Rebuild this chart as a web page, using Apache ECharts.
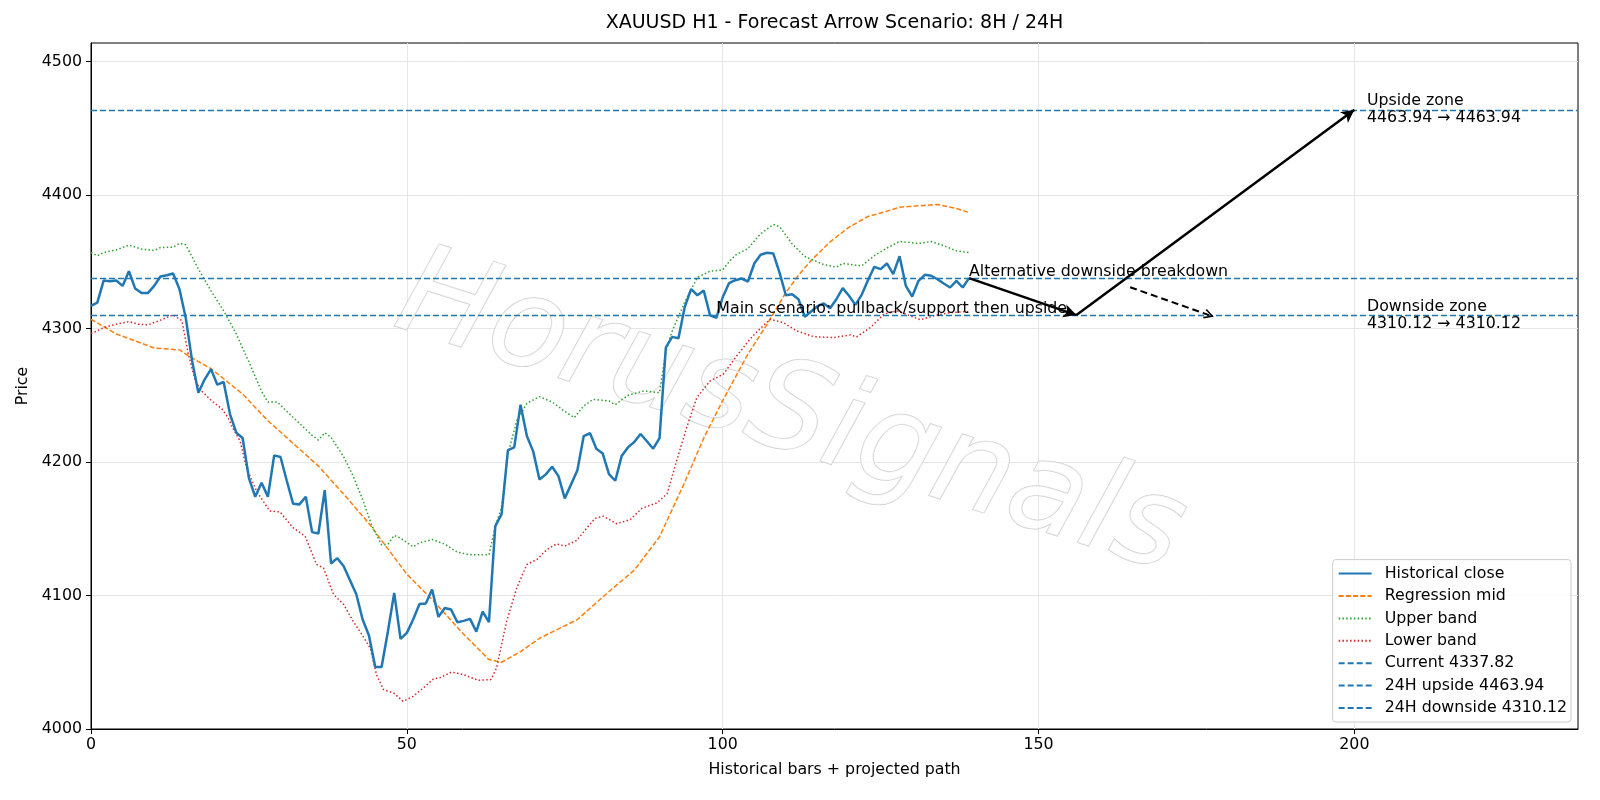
<!DOCTYPE html>
<html>
<head>
    <meta charset="utf-8">
    <script src="https://cdn.jsdelivr.net/npm/echarts@6/dist/echarts.min.js"></script>
</head>
<body style="margin:0">
    <div id="main" style="width: 1600px;height:800px;"></div>
    <script type="text/javascript">

    // historical closes, one per bar (x = 0..139)
    var closeValues = [
        4317, 4319.5, 4336, 4335.5, 4336, 4332, 4343, 4330, 4326.6, 4326.6,
        4332, 4339, 4340, 4341.3, 4329.6, 4308, 4276, 4252, 4262, 4269.6,
        4258, 4260, 4236, 4222, 4218, 4188, 4174, 4184.5, 4174, 4205,
        4203.8, 4185.8, 4168.7, 4168.3, 4174, 4147.5, 4146.5, 4179, 4124, 4128,
        4122, 4111.5, 4101, 4082, 4070, 4046.5, 4046.5, 4073, 4102, 4067.5,
        4072, 4082, 4093.7, 4094, 4104.5, 4084, 4090.7, 4089.5, 4080, 4081,
        4082.5, 4073, 4088, 4080, 4152, 4161, 4209, 4211, 4243, 4219.5,
        4208, 4187, 4190.8, 4196.5, 4189.5, 4172.8, 4183.3, 4193.8, 4219.5, 4221.6,
        4210, 4206.5, 4191, 4186, 4204.5, 4211, 4215, 4221, 4215.6, 4210,
        4218, 4285.8, 4293.8, 4292.8, 4316.3, 4329.6, 4325, 4328.5, 4310, 4308,
        4323.5, 4334, 4336.3, 4337.5, 4335.3, 4348.8, 4355.3, 4356.8, 4356.3, 4342,
        4325, 4325.8, 4322, 4308.8, 4312.8, 4316.8, 4318.8, 4315.3, 4322, 4330.3,
        4324.6, 4317.8, 4325.3, 4336.3, 4346.3, 4344.6, 4348.8, 4340.8, 4354.3, 4332,
        4324, 4335.8, 4340.3, 4339.6, 4337, 4333.8, 4330.8, 4335.8, 4330.8, 4337.82
    ];

    // regression mid line, read at these bars
    var midX = [0, 4, 10, 14, 16, 19, 24, 28, 32, 36, 40, 44, 47, 50, 54, 59, 63, 65, 68, 71,
        77, 82, 86, 90, 94, 97, 100, 104, 107, 110, 112, 114, 117, 120, 123, 126, 128, 131, 134, 137, 139];
    var midY = [4307, 4296, 4285.5, 4284, 4278, 4270, 4251, 4231, 4214, 4197, 4176, 4154, 4135, 4116, 4097, 4071, 4052, 4050, 4058, 4068,
        4082, 4103, 4119, 4144, 4185, 4218, 4246, 4281, 4303, 4327, 4340, 4351, 4365, 4376, 4384, 4388, 4391, 4392, 4393, 4390, 4387];

    // [bar, price]
    var upperBand = [[0,4357],[1,4354.6],[2,4357],[4,4359],[6,4362.6],[8,4359.6],[10,4358.5],[11,4360.8],[13,4361],[14,4363.8],
        [15,4362.8],[17,4344.6],[19,4328.3],[21,4313.3],[23,4296],[25,4275],[27,4253],[28,4245],[29.5,4245],[31,4238],
        [33,4229],[35,4220],[36,4216.5],[37,4222],[38,4218.5],[40,4204],[41.5,4189.5],[43,4172],[44.5,4152],[46,4138],
        [47,4138.3],[48,4145],[49,4143],[51,4136.5],[52,4139.5],[54,4142],[56,4138.5],[58,4132.5],[60,4130.5],[63,4130.5],
        [64,4152],[65,4166],[66,4206],[67.4,4231],[69,4244],[71,4249],[73,4245],[75,4238],[76.5,4233.3],[78,4242],
        [79.5,4247],[82,4245.8],[83,4243],[85,4250],[87.5,4253.3],[90,4252],[91,4283],[92,4298],[94,4320],[96,4338.5],
        [98,4343],[100,4344],[101,4350],[102,4355],[104,4360],[106,4371],[108,4378],[109,4376.4],[111,4363.5],[113,4354],
        [116,4348],[118,4346],[119,4348.8],[122,4347],[124,4354.6],[126,4360.4],[128,4365.3],[131,4363.8],[133,4365.3],[135,4362],
        [137,4358.3],[139,4357]];

    var lowerBand = [[0,4296.3],[1,4298.3],[2,4300.8],[4,4303.3],[6,4305.3],[7.5,4303.3],[9,4302.8],[10.7,4305.8],[13,4310.3],[14.4,4305.8],
        [15.4,4281],[16.5,4261],[17.5,4253.3],[19.2,4245.5],[20.7,4240],[21.7,4233.3],[22.5,4225],[23.6,4215.8],[24.6,4196],[26.2,4178.3],
        [28.3,4163.3],[29.9,4162.7],[32,4150.7],[33.9,4144.5],[35.7,4123.3],[36.8,4120.7],[38.4,4100.8],[40,4093.3],[41.5,4080.7],[42.9,4070.7],
        [44.2,4060.7],[45.2,4040.7],[46.3,4029.5],[47.9,4027],[49.4,4020.7],[51,4024.5],[52.6,4030.7],[54.2,4037.5],[55.2,4038.3],[57.1,4042.7],
        [59,4040.7],[61.3,4036.5],[63.3,4037],[64.2,4045.7],[65.8,4080.7],[67.4,4105.7],[69,4123.3],[70.6,4127],[72.2,4134.5],[73.7,4138.7],
        [75,4137],[76.9,4141.3],[78.5,4150.7],[79.8,4157.8],[81.1,4159.5],[83.2,4153.8],[85.4,4157],[87.2,4165.3],[89.6,4169.5],[91.2,4176.2],
        [92.7,4200.8],[94.3,4225.8],[95.9,4248.3],[98,4260.8],[100.1,4265.8],[102.2,4279.5],[104.3,4292],[105.5,4298],[107.5,4307],[109.6,4304.5],
        [111.7,4298.3],[114.4,4294],[117.5,4293.3],[120.2,4295.3],[121.2,4293.8],[123.4,4300.8],[125.5,4310.8],[127.6,4313.3],[129.7,4309.6],[131.3,4306.6],
        [133.4,4309.6],[136,4312],[139,4312.8]];

    var currentPrice = 4337.82;
    var upside24 = 4463.94;
    var downside24 = 4310.12;

    // scenario path (bars)
    var lastBar = 139, pullbackBar = 156, upsideBar = 200, altBar = 177;
    var altArrowStart = [164.5, 4331];
    var mainTextAt = [99, downside24];
    var zoneTextBar = 202;

    var xTicks = [0, 50, 100, 150, 200];
    var yTicks = [4000, 4100, 4200, 4300, 4400, 4500];

    var font = 'DejaVu Sans';
    var fs = 15.8;
    var hColor = '#1f77b4';

    var myChart = echarts.init(document.getElementById('main'));

    function hline(name, value) {
        return {
            name: name,
            type: 'line',
            data: [],
            symbol: 'none',
            color: hColor,
            lineStyle: {color: hColor, width: 1.4, type: [6, 3]},
            markLine: {
                silent: true,
                animation: false,
                symbol: 'none',
                label: {show: false},
                lineStyle: {color: hColor, width: 1.4, type: [6, 3]},
                data: [{yAxis: value}]
            }
        };
    }

    var chevron = 'path://M5,0 L10,9 L8.6,9.8 L5,2.8 L1.4,9.8 L0,9 Z';

    myChart.setOption({
        animation: false,
        textStyle: {fontFamily: font},
        title: {
            text: 'XAUUSD H1 - Forecast Arrow Scenario: 8H / 24H',
            left: 834.5,
            top: 14,
            padding: 0,
            textAlign: 'center',
            textStyle: {fontSize: 19, fontWeight: 'normal', color: '#000', fontFamily: font}
        },
        grid: {
            left: 91, right: 22, top: 43, bottom: 71,
            show: true, borderColor: '#000', borderWidth: 1, backgroundColor: 'transparent'
        },
        legend: {
            orient: 'vertical',
            right: 29,
            bottom: 78,
            itemWidth: 33,
            itemHeight: 16,
            itemGap: 6.4,
            padding: [6, 4, 6, 5],
            backgroundColor: 'rgba(255,255,255,0.8)',
            borderColor: '#cccccc',
            borderWidth: 1,
            borderRadius: 3,
            itemStyle: {opacity: 0},
            textStyle: {fontSize: fs, color: '#000', fontFamily: font, padding: [0, 0, 0, 8]},
            data: ['Historical close', 'Regression mid', 'Upper band', 'Lower band',
                'Current ' + currentPrice, '24H upside ' + upside24, '24H downside ' + downside24]
        },
        xAxis: {
            type: 'value',
            min: 0,
            max: 235.4,
            interval: 50,
            name: 'Historical bars + projected path',
            nameLocation: 'middle',
            nameGap: 33,
            nameTextStyle: {fontSize: fs, color: '#000', fontFamily: font},
            axisLine: {show: true, onZero: false, lineStyle: {color: '#000', width: 1}},
            axisTick: {show: true, length: 5, lineStyle: {color: '#000'}, customValues: xTicks},
            axisLabel: {fontSize: fs, color: '#000', margin: 8, customValues: xTicks},
            splitLine: {show: true, lineStyle: {color: '#e6e6e6', width: 1}}
        },
        yAxis: {
            type: 'value',
            min: 4000,
            max: 4514,
            interval: 100,
            name: 'Price',
            nameLocation: 'middle',
            nameGap: 57,
            nameRotate: 90,
            nameTextStyle: {fontSize: fs, color: '#000', fontFamily: font},
            axisLine: {show: true, onZero: false, lineStyle: {color: '#000', width: 1}},
            axisTick: {show: true, length: 5, lineStyle: {color: '#000'}, customValues: yTicks},
            axisLabel: {
                fontSize: fs, color: '#000', margin: 9, customValues: yTicks,
                formatter: function (v) { return String(v); }
            },
            splitLine: {show: true, lineStyle: {color: '#e6e6e6', width: 1}}
        },
        graphic: [{
            type: 'text',
            x: 790,
            y: 417,
            rotation: -17.6 * Math.PI / 180,
            z: 1,
            silent: true,
            style: {
                text: 'HorusSignals',
                font: 'italic 125px "DejaVu Sans"',
                align: 'center',
                verticalAlign: 'middle',
                fill: 'rgba(255,255,255,0.8)',
                stroke: 'rgba(195,195,195,0.8)',
                lineWidth: 1.5,
                shadowColor: 'rgba(0,0,0,0.4)',
                shadowOffsetX: 3,
                shadowOffsetY: 4,
                shadowBlur: 2
            }
        }],
        series: [
            {
                name: 'Historical close',
                type: 'line',
                symbol: 'none',
                color: '#1f77b4',
                lineStyle: {color: '#1f77b4', width: 2.5},
                data: closeValues.map(function (v, i) { return [i, v]; }),
                z: 4
            },
            {
                name: 'Regression mid',
                type: 'line',
                symbol: 'none',
                color: '#ff7f0e',
                lineStyle: {color: '#ff7f0e', width: 1.5, type: [5, 2.2]},
                data: midX.map(function (x, k) { return [x, midY[k]]; }),
                z: 3
            },
            {
                name: 'Upper band',
                type: 'line',
                symbol: 'none',
                color: '#2ca02c',
                lineStyle: {color: '#2ca02c', width: 1.5, type: [1.5, 2.3]},
                data: upperBand,
                z: 3
            },
            {
                name: 'Lower band',
                type: 'line',
                symbol: 'none',
                color: '#d62728',
                lineStyle: {color: '#d62728', width: 1.5, type: [1.5, 2.3]},
                data: lowerBand,
                z: 3
            },
            hline('Current ' + currentPrice, currentPrice),
            hline('24H upside ' + upside24, upside24),
            hline('24H downside ' + downside24, downside24),
            {
                name: 'scenario',
                type: 'line',
                data: [],
                z: 6,
                markLine: {
                    silent: true,
                    animation: false,
                    symbol: ['none', 'arrow'],
                    symbolSize: [10, 13],
                    label: {show: false},
                    lineStyle: {color: '#000', width: 2.5, type: 'solid'},
                    data: [
                        [{coord: [lastBar, currentPrice]}, {coord: [pullbackBar, downside24]}],
                        [{coord: [pullbackBar, downside24]}, {coord: [upsideBar, upside24]}],
                        [{coord: altArrowStart, lineStyle: {color: '#000', width: 2, type: [7, 4]}},
                         {coord: [altBar, downside24], symbol: chevron, symbolSize: [10, 10]}]
                    ]
                }
            },
            {
                name: 'notes',
                type: 'scatter',
                symbolSize: 0,
                z: 5,
                silent: true,
                itemStyle: {opacity: 1},
                label: {
                    show: true,
                    position: 'right',
                    distance: 0,
                    fontSize: fs,
                    color: '#000',
                    opacity: 1,
                    textBorderWidth: 0,
                    fontFamily: font,
                    formatter: function (p) { return p.name; }
                },
                data: [
                    {name: 'Main scenario: pullback/support then upside', value: mainTextAt, label: {offset: [0, -6]}},
                    {name: 'Alternative downside breakdown', value: [lastBar, currentPrice], label: {offset: [0, -6]}},
                    {name: 'Upside zone\n' + upside24 + ' \u2192 ' + upside24, value: [zoneTextBar, upside24], label: {lineHeight: 17}},
                    {name: 'Downside zone\n' + downside24 + ' \u2192 ' + downside24, value: [zoneTextBar, downside24], label: {lineHeight: 17}}
                ]
            }
        ]
    });
</script>
</body>
</html>
